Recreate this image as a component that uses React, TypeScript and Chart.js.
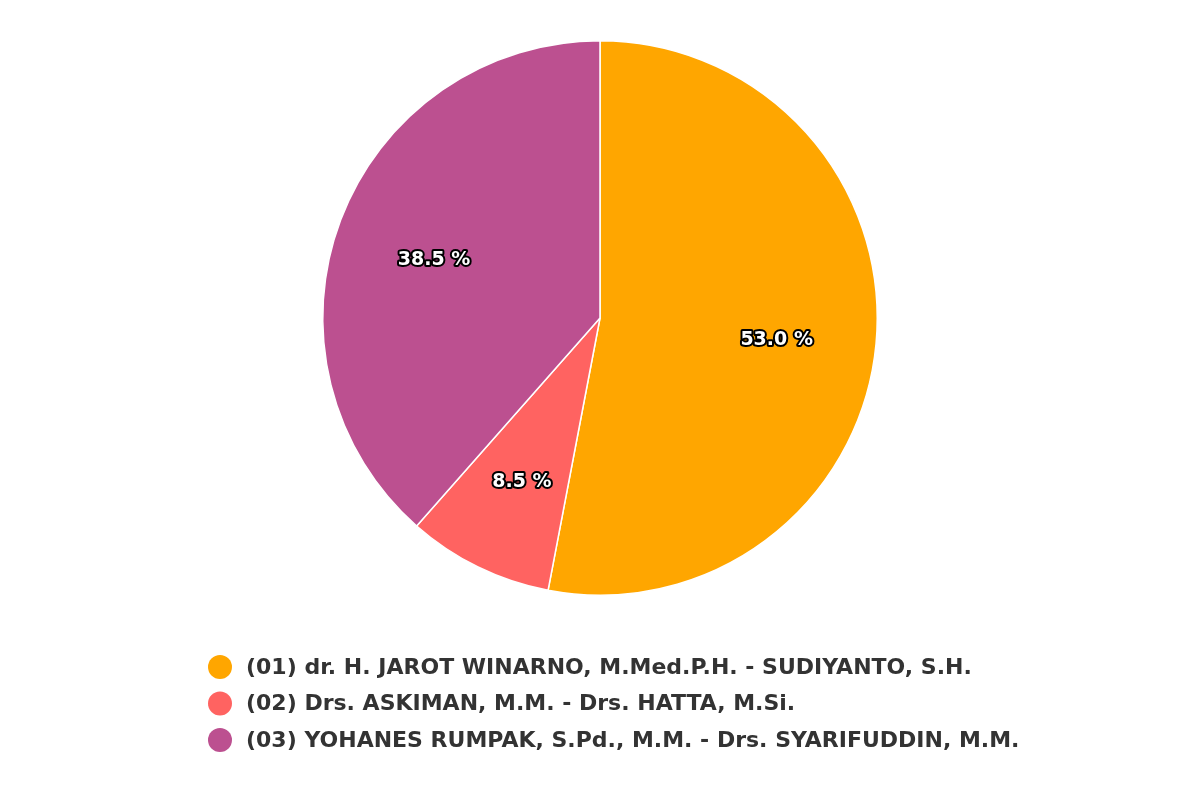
import { useEffect, useRef } from 'react';
import { Chart, registerables, Plugin } from 'chart.js';

Chart.register(...registerables);

const candidates = [
  '(01) dr. H. JAROT WINARNO, M.Med.P.H. - SUDIYANTO, S.H.',
  '(02) Drs. ASKIMAN, M.M. - Drs. HATTA, M.Si.',
  '(03) YOHANES RUMPAK, S.Pd., M.M. - Drs. SYARIFUDDIN, M.M.',
];
const shares = [53.0, 8.5, 38.5];
const colors = ['#ffa600', '#ff6361', '#bc5090'];

const FONT = '"DejaVu Sans", "Open Sans", sans-serif';

// percentage labels inside the slices, white with dark outline
const sliceLabels: Plugin<'pie'> = {
  id: 'sliceLabels',
  afterDatasetsDraw(chart) {
    const { ctx } = chart;
    const meta = chart.getDatasetMeta(0);
    ctx.save();
    ctx.font = `bold 19px ${FONT}`;
    ctx.textAlign = 'center';
    ctx.textBaseline = 'middle';
    ctx.lineJoin = 'round';
    meta.data.forEach((arc: any, i) => {
      const p = arc.getProps(['x', 'y', 'startAngle', 'endAngle', 'outerRadius'], true);
      const mid = (p.startAngle + p.endAngle) / 2;
      const d = p.outerRadius * 0.64;
      const x = p.x + Math.cos(mid) * d;
      const y = p.y + Math.sin(mid) * d + 5;
      const txt = `${shares[i].toFixed(1)} %`;
      ctx.lineWidth = 4;
      ctx.strokeStyle = '#000';
      ctx.strokeText(txt, x, y);
      ctx.fillStyle = '#fff';
      ctx.fillText(txt, x, y);
    });
    ctx.restore();
  },
};

// legend below the pie, items stacked and left aligned
const stackedLegend: Plugin<'pie'> = {
  id: 'stackedLegend',
  afterDraw(chart) {
    const { ctx } = chart;
    const labels = chart.data.labels as string[];
    ctx.save();
    ctx.font = `bold 22px ${FONT}`;
    ctx.textBaseline = 'middle';
    ctx.textAlign = 'left';
    const cx = chart.width / 2 - 380; // symbol centre
    const top = 667;
    const step = 36.5;
    labels.forEach((l, i) => {
      const y = top + i * step;
      ctx.beginPath();
      ctx.arc(cx, y, 12, 0, Math.PI * 2);
      ctx.fillStyle = colors[i];
      ctx.fill();
      ctx.fillStyle = '#333333';
      ctx.fillText(l, cx + 26, y + 1);
    });
    ctx.restore();
  },
};

export default function App() {
  const canvasRef = useRef<HTMLCanvasElement>(null);

  useEffect(() => {
    if (!canvasRef.current) return;
    const chart = new Chart(canvasRef.current, {
      type: 'pie',
      data: {
        labels: candidates,
        datasets: [
          {
            data: shares,
            backgroundColor: colors,
            borderColor: '#ffffff',
            borderWidth: 1.5,
          },
        ],
      },
      options: {
        responsive: true,
        maintainAspectRatio: false,
        animation: false,
        layout: { padding: { top: 40, bottom: 204, left: 0, right: 0 } },
        plugins: {
          legend: { display: false },
          tooltip: { enabled: false },
        },
      },
      plugins: [sliceLabels, stackedLegend],
    });
    return () => chart.destroy();
  }, []);

  return (
    <div style={{ position: 'fixed', left: 0, top: 0, width: 1200, height: 800, background: '#fff' }}>
      <canvas ref={canvasRef} />
    </div>
  );
}
